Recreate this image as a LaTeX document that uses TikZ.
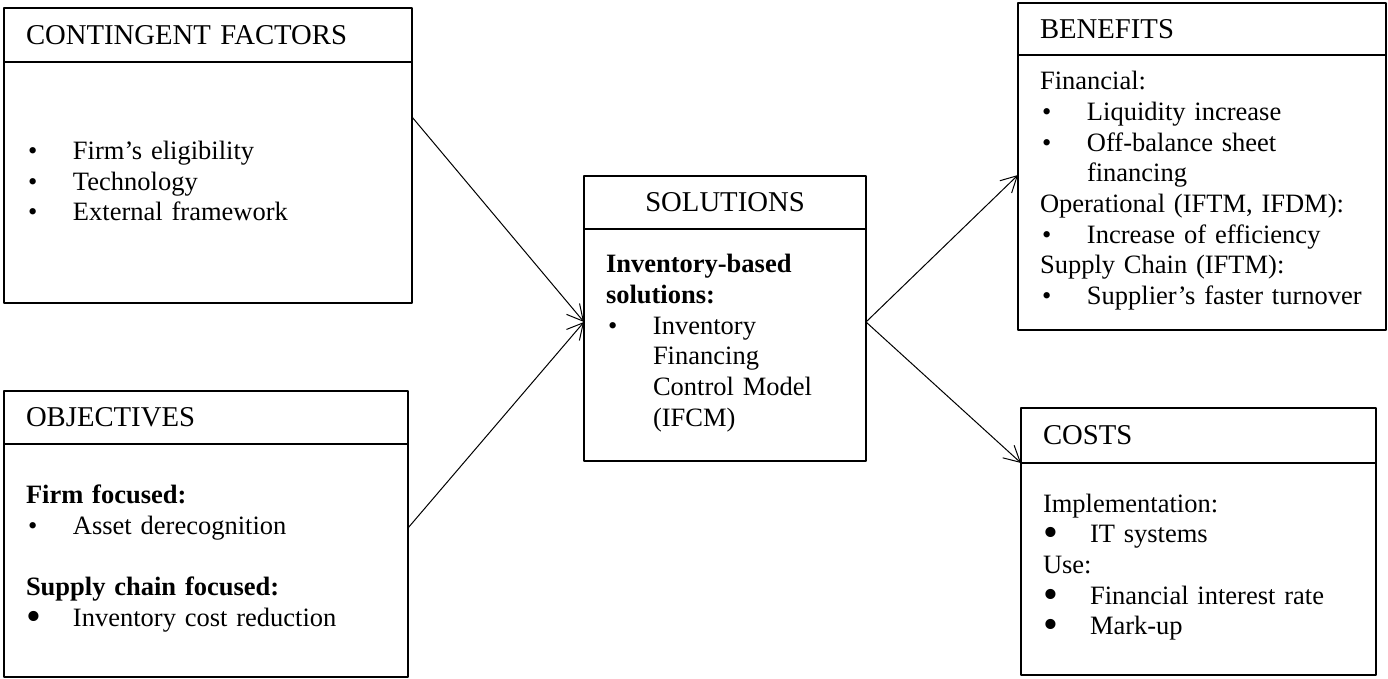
\documentclass[tikz,border=0pt]{standalone}
\usepackage{fontspec}
\setmainfont{Liberation Serif}
\usetikzlibrary{arrows.meta}
\usetikzlibrary{positioning}
\setlength{\parindent}{0pt}

\newcommand{\bul}[1]{\par\noindent\makebox[47pt][l]{\hspace{2pt}\textbullet}\parbox[t]{\dimexpr\hsize-47pt}{\raggedright #1\strut}\par\prevdepth=\dp\strutbox}
\newcommand{\dotitem}[1]{\par\noindent\makebox[47pt][l]{\raisebox{-0.14em}{\scalebox{1.6}{\textbullet}}}\parbox[t]{\dimexpr\hsize-47pt}{\raggedright #1\strut}\par\prevdepth=\dp\strutbox}

\begin{document}
\begin{tikzpicture}[line cap=round,line join=round,x=1pt,y=1pt,
  boxhead/.style={draw,line width=2.4pt,outer sep=0pt,inner xsep=22pt,inner ysep=0pt,align=left,font=\fontsize{28.7}{33}\selectfont},
  boxbody/.style={draw,line width=2.4pt,outer sep=0pt,inner xsep=22pt,inner ysep=0pt,align=left,font=\fontsize{26.5}{30.7}\selectfont},
  link/.style={line width=1pt,-{Straight Barb[length=16pt,width=17pt]}}]
\useasboundingbox (0,0) rectangle (1388,678);
% left column
\node[boxhead,text width=364pt,minimum height=54pt] (cfhead) at (208,643) {CONTINGENT FACTORS};
\node[boxbody,text width=364pt,minimum height=241pt,below=0pt of cfhead] (cfbody) {\bul{Firm's eligibility}\bul{Technology}\bul{External framework}\vspace{6pt}\nointerlineskip\null};
\node[boxhead,text width=360pt,minimum height=53pt] (objhead) at (206,260.5) {OBJECTIVES};
\node[boxbody,text width=360pt,minimum height=233pt,below=0pt of objhead] (objbody) {\textbf{Firm focused:}\bul{Asset derecognition}\vspace{30.7pt}\textbf{Supply chain focused:}\dotitem{Inventory cost reduction}};
% centre
\node[boxhead,text width=238pt,minimum height=53pt,align=center] (solhead) at (725,475.5) {SOLUTIONS};
\node[boxbody,text width=238pt,minimum height=232pt,below=0pt of solhead] (solbody) {\textbf{Inventory-based\\ solutions:}\bul{Inventory\\ Financing\\ Control Model\\ (IFCM)}};
% right column
\node[boxhead,text width=324pt,minimum height=52pt] (benhead) at (1202,649) {BENEFITS};
\node[boxbody,text width=324pt,minimum height=275pt,below=0pt of benhead] (benbody) {Financial:\bul{Liquidity increase}\bul{Off-balance sheet\\ financing}Operational (IFTM, IFDM):\bul{Increase of efficiency}Supply Chain (IFTM):\bul{Supplier's faster turnover}};
\node[boxhead,text width=311pt,minimum height=55pt] (costhead) at (1198.5,242.5) {COSTS};
\node[boxbody,text width=311pt,minimum height=212pt,below=0pt of costhead] (costbody) {Implementation:\dotitem{IT systems}Use:\dotitem{Financial interest rate}\dotitem{Mark-up}};
% links
\draw[link] ([yshift=65.5pt]cfbody.east) -- ([yshift=23pt]solbody.west);
\draw[link] ([yshift=32.5pt]objbody.east) -- ([yshift=23pt]solbody.west);
\draw[link] ([yshift=23pt]solbody.east) -- ([yshift=17.5pt]benbody.west);
\draw[link] ([yshift=23pt]solbody.east) -- (costbody.north west);
\end{tikzpicture}
\end{document}
